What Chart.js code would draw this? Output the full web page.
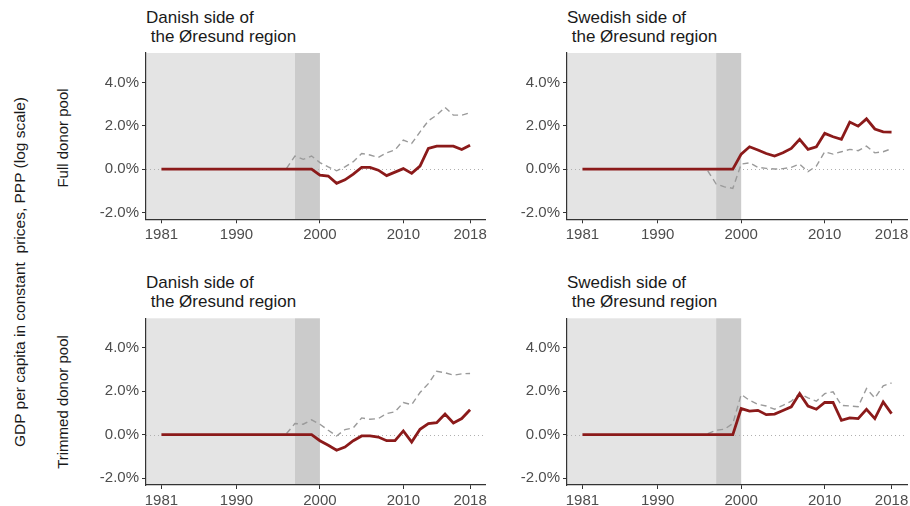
<!DOCTYPE html>
<html>
<head>
<meta charset="utf-8">
<script src="https://cdn.jsdelivr.net/npm/chart.js@4"></script>
<style>
  html, body { margin: 0; padding: 0; background: #fff; }
  #wrap { position: relative; width: 910px; height: 506px; overflow: hidden; font-family: "Liberation Sans", Arial, sans-serif; }
  canvas { position: absolute; }
  .ptitle { position: absolute; font-size: 17px; line-height: 19px; color: #1a1a1a; white-space: pre; }
  .vlab { position: absolute; white-space: pre; color: #1a1a1a; transform: translate(-50%, -50%) rotate(-90deg); }
</style>
</head>
<body>
<div id="wrap">
  <div class="ptitle" style="left:146px; top:8px;">Danish side of
 the Øresund region</div>
  <div class="ptitle" style="left:567px; top:8px;">Swedish side of
 the Øresund region</div>
  <div class="ptitle" style="left:146px; top:273px;">Danish side of
 the Øresund region</div>
  <div class="ptitle" style="left:567px; top:273px;">Swedish side of
 the Øresund region</div>
  <div class="vlab" style="left:20px; top:272px; font-size:15.5px;">GDP per capita in constant  prices, PPP (log scale)</div>
  <div class="vlab" style="left:62px; top:138px; font-size:15px;">Full donor pool</div>
  <div class="vlab" style="left:62px; top:402px; font-size:15px;">Trimmed donor pool</div>
  <canvas id="c1" width="404" height="195" style="left:86px; top:48px;"></canvas>
  <canvas id="c2" width="403" height="195" style="left:507px; top:48px;"></canvas>
  <canvas id="c3" width="404" height="193" style="left:86px; top:313px;"></canvas>
  <canvas id="c4" width="403" height="193" style="left:507px; top:313px;"></canvas>
</div>
<script>
// ---- data ----
const years = [1981,1982,1983,1984,1985,1986,1987,1988,1989,1990,1991,1992,1993,1994,1995,1996,1997,1998,1999,
               2000,2001,2002,2003,2004,2005,2006,2007,2008,2009,2010,2011,2012,2013,2014,2015,2016,2017,2018];
const xTickYears = [1981, 1990, 2000, 2010, 2018];
const yTickValues = [-2, 0, 2, 4];

// Full donor pool – Danish side
const fullDanishEffect = [0,0,0,0,0,0,0,0,0,0,0,0,0,0,0,0,0,0,0,
  -0.28,-0.32,-0.66,-0.50,-0.23,0.08,0.08,-0.05,-0.30,-0.14,0.02,-0.20,0.14,0.95,1.06,1.06,1.06,0.90,1.10];
const fullDanishPlacebo = [null,null,null,null,null,null,null,null,null,null,null,null,null,null,null,0.03,0.60,0.45,0.60,
  0.30,0.10,-0.08,0.10,0.34,0.72,0.65,0.54,0.75,0.88,1.34,1.18,1.72,2.23,2.49,2.85,2.49,2.49,2.60];

// Full donor pool – Swedish side
const fullSwedishEffect = [0,0,0,0,0,0,0,0,0,0,0,0,0,0,0,0,0,0,0,
  0.69,1.03,0.88,0.72,0.60,0.75,0.95,1.37,0.91,1.03,1.65,1.49,1.37,2.17,1.98,2.32,1.85,1.72,1.71];
const fullSwedishPlacebo = [null,null,null,null,null,null,null,null,null,null,null,null,null,null,null,-0.08,-0.69,-0.82,-0.89,
  0.23,0.29,0.08,0.03,0.00,0.02,0.08,0.23,-0.12,0.14,0.80,0.69,0.80,0.91,0.85,1.06,0.75,0.80,0.94];

// Trimmed donor pool – Danish side
const trimDanishEffect = [0,0,0,0,0,0,0,0,0,0,0,0,0,0,0,0,0,0,0,
  -0.28,-0.49,-0.72,-0.57,-0.28,-0.06,-0.06,-0.11,-0.28,-0.28,0.17,-0.34,0.25,0.51,0.55,0.95,0.54,0.74,1.15];
const trimDanishPlacebo = [null,null,null,null,null,null,null,null,null,null,null,null,null,null,null,0.05,0.51,0.48,0.68,
  0.48,0.20,-0.06,0.23,0.31,0.77,0.71,0.74,0.97,1.05,1.48,1.38,1.94,2.35,2.92,2.85,2.74,2.80,2.82];

// Trimmed donor pool – Swedish side
const trimSwedishEffect = [0,0,0,0,0,0,0,0,0,0,0,0,0,0,0,0,0,0,0,
  1.20,1.08,1.12,0.92,0.95,1.11,1.28,1.89,1.32,1.17,1.48,1.48,0.66,0.77,0.74,1.17,0.74,1.51,0.97];
const trimSwedishPlacebo = [null,null,null,null,null,null,null,null,null,null,null,null,null,null,null,0.05,0.20,0.25,0.51,
  1.85,1.58,1.40,1.32,1.17,1.35,1.54,1.89,1.69,1.54,1.89,1.97,1.35,1.32,1.29,2.12,1.69,2.25,2.38];

// shaded periods
const preStart = 1979.15, treatStart = 1997, treatEnd = 2000;

// ---- drawing ----
const shadePlugin = {
  id: 'shade',
  beforeDraw(chart) {
    const { ctx, chartArea: a, scales: { x, y } } = chart;
    ctx.save();
    const x0 = a.left, x1 = x.getPixelForValue(treatStart), x2 = x.getPixelForValue(treatEnd);
    ctx.fillStyle = '#e4e4e4';
    ctx.fillRect(x0, a.top, x1 - x0, a.bottom - a.top);
    ctx.fillStyle = '#cbcbcb';
    ctx.fillRect(x1, a.top, x2 - x1, a.bottom - a.top);
    const yz = Math.round(y.getPixelForValue(0)) + 0.5;
    ctx.strokeStyle = '#b0b0b0';
    ctx.lineWidth = 1;
    ctx.setLineDash([1, 3]);
    ctx.beginPath();
    ctx.moveTo(a.left, yz);
    ctx.lineTo(a.right, yz);
    ctx.stroke();
    ctx.restore();
  }
};

function pts(arr) { return years.map((yr, i) => ({ x: yr, y: arr[i] })); }

function makePanel(id, canvasLeft, canvasTop, plot, effect, placebo) {
  const cv = document.getElementById(id);
  const W = cv.width, H = cv.height;
  const yW = plot.left - canvasLeft;
  const xH = (canvasTop + H) - plot.bottom;
  new Chart(cv, {
    type: 'line',
    data: {
      datasets: [
        { data: pts(effect), borderColor: '#8b1a1a', borderWidth: 2.8, pointRadius: 0, tension: 0, order: 1, spanGaps: false },
        { data: pts(placebo), borderColor: '#9a9a9a', borderWidth: 1.4, borderDash: [6, 4], pointRadius: 0, tension: 0, order: 2, spanGaps: false }
      ]
    },
    options: {
      responsive: false,
      animation: false,
      devicePixelRatio: 1,
      layout: { padding: { left: 0, top: plot.top - canvasTop, right: (canvasLeft + W) - plot.right, bottom: 0 } },
      plugins: { legend: { display: false }, tooltip: { enabled: false }, title: { display: false } },
      scales: {
        x: {
          type: 'linear', min: preStart, max: 2019.85,
          afterBuildTicks: s => { s.ticks = xTickYears.map(v => ({ value: v })); },
          afterFit: s => { s.height = xH; s.paddingLeft = 0; s.paddingRight = 0; },
          ticks: { autoSkip: false, maxRotation: 0, padding: 3, color: '#4d4d4d',
                   font: { family: '"Liberation Sans", Arial, sans-serif', size: 15 },
                   callback: v => String(v) },
          grid: { drawOnChartArea: false, tickLength: 4, color: '#333', tickWidth: 1 },
          border: { display: true, color: '#333', width: 1.2 }
        },
        y: {
          type: 'linear', min: -2.32, max: 5.36,
          afterBuildTicks: s => { s.ticks = yTickValues.map(v => ({ value: v })); },
          afterFit: s => { s.width = yW; s.paddingTop = 0; s.paddingBottom = 0; },
          ticks: { padding: 3, color: '#4d4d4d',
                   font: { family: '"Liberation Sans", Arial, sans-serif', size: 15 },
                   callback: v => v.toFixed(1) + '%' },
          grid: { drawOnChartArea: false, tickLength: 4, color: '#333', tickWidth: 1 },
          border: { display: true, color: '#333', width: 1.2 }
        }
      }
    },
    plugins: [shadePlugin]
  });
}

const topPlot = { top: 53, bottom: 219.3 };
const botPlot = { top: 318.3, bottom: 485 };
makePanel('c1', 86, 48, { left: 146, right: 485.5, ...topPlot }, fullDanishEffect, fullDanishPlacebo);
makePanel('c2', 507, 48, { left: 567, right: 907, ...topPlot }, fullSwedishEffect, fullSwedishPlacebo);
makePanel('c3', 86, 313, { left: 146, right: 485.5, ...botPlot }, trimDanishEffect, trimDanishPlacebo);
makePanel('c4', 507, 313, { left: 567, right: 907, ...botPlot }, trimSwedishEffect, trimSwedishPlacebo);
</script>
</body>
</html>
